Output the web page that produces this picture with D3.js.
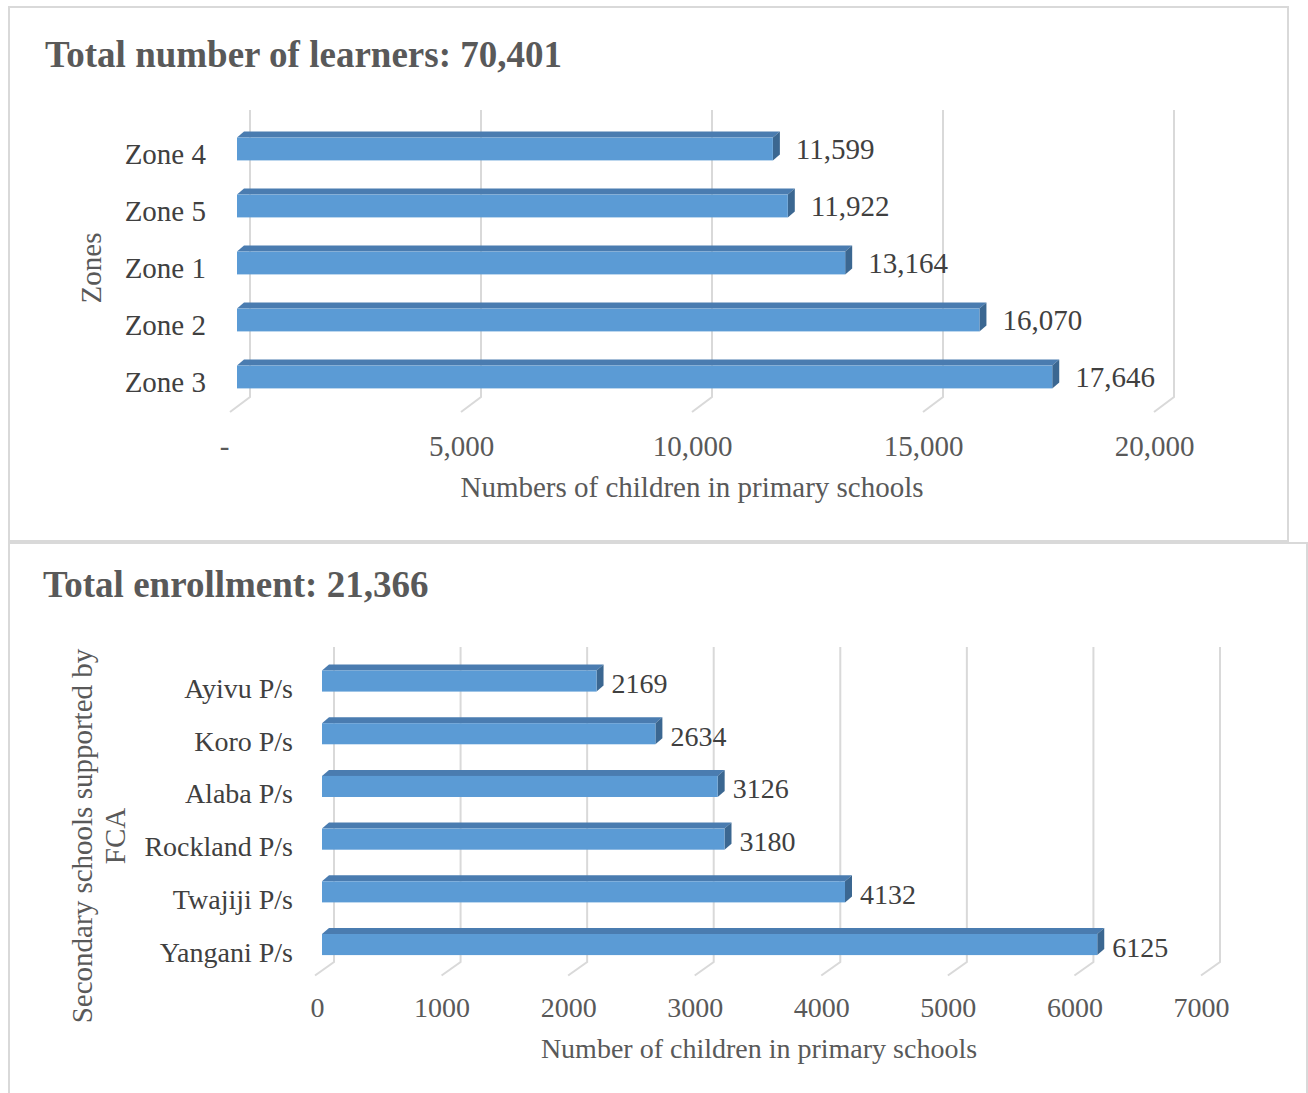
<!DOCTYPE html>
<html>
<head>
<meta charset="utf-8">
<script src="https://cdn.jsdelivr.net/npm/d3@7"></script>
<style>
  html, body { margin: 0; padding: 0; background: #ffffff; }
  svg { display: block; }
  text { font-family: "Liberation Serif", "Times New Roman", serif; }
</style>
</head>
<body>
<svg id="chart" width="1308" height="1093"></svg>
<script>
// ---- Data: learners per zone ----
const zoneNames = ["Zone 4", "Zone 5", "Zone 1", "Zone 2", "Zone 3"];
const zoneLearners = [11599, 11922, 13164, 16070, 17646];
const zoneTicks = [0, 5000, 10000, 15000, 20000];
const zoneTitle = "Total number of learners: 70,401";

// ---- Data: enrollment per FCA-supported school ----
const schoolNames = ["Ayivu P/s", "Koro P/s", "Alaba P/s", "Rockland P/s", "Twajiji P/s", "Yangani P/s"];
const schoolEnrollment = [2169, 2634, 3126, 3180, 4132, 6125];
const schoolTicks = [0, 1000, 2000, 3000, 4000, 5000, 6000, 7000];
const schoolTitle = "Total enrollment: 21,366";

const svg = d3.select("#chart");

const FRONT = "#5b9bd5", TOP = "#4a7cb0", SIDE = "#3b6791";
const GRID = "#d9d9d9", TITLE_C = "#595959", LABEL_C = "#404040";

// panel frames
svg.append("rect").attr("x", 9).attr("y", 7).attr("width", 1279).attr("height", 534)
  .attr("fill", "none").attr("stroke", GRID).attr("stroke-width", 2);
svg.append("rect").attr("x", 9).attr("y", 543).attr("width", 1298).attr("height", 560)
  .attr("fill", "none").attr("stroke", GRID).attr("stroke-width", 2);

// Draws one 3-D style horizontal bar chart
function bar3d(cfg) {
  const g = svg.append("g");
  const fs = cfg.fontSize;
  const x = d3.scaleLinear().domain([0, cfg.ticks[cfg.ticks.length - 1]]).range(cfg.xRange);
  const y = d3.scaleBand().domain(cfg.names).range(cfg.yRange).paddingInner(0.6).paddingOuter(0.3);
  const floor = x.copy().range(cfg.xRange.map(v => v + cfg.depth[0]));
  const fx = v => x(v) + cfg.barShift;       // front face of the bars
  const bd = [7, 6];                           // bar depth (dx, dy)

  // title
  g.append("text").attr("x", cfg.titleX).attr("y", cfg.titleY)
    .attr("font-size", 37).attr("font-weight", "bold").attr("fill", TITLE_C)
    .text(cfg.title);

  // back-wall gridlines with floor returns
  g.append("g").selectAll("path").data(cfg.ticks).join("path")
    .attr("d", t => `M${x(t)},${cfg.gridTop} L${x(t)},${cfg.floorY} L${x(t) + cfg.depth[0]},${cfg.floorY + cfg.depth[1]}`)
    .attr("fill", "none").attr("stroke", GRID).attr("stroke-width", 2);

  // value axis labels along the front edge of the floor
  const ax = g.append("g").attr("transform", `translate(0,${cfg.tickY})`)
    .call(d3.axisBottom(floor).tickValues(cfg.ticks).tickSize(0).tickPadding(0).tickFormat(cfg.fmt));
  ax.select(".domain").remove();
  ax.selectAll("text").attr("font-family", "Liberation Serif, serif").attr("font-size", fs)
    .attr("fill", TITLE_C).attr("dy", 0)
    .attr("dx", d => d === 0 ? cfg.zeroDx : 0);

  const rows = cfg.names.map((n, i) => ({ n, v: cfg.values[i] }));
  const bars = g.append("g").selectAll("g").data(rows).join("g");
  const bw = y.bandwidth();

  // top face
  bars.append("path").attr("fill", TOP).attr("d", d => {
    const y0 = y(d.n), x0 = fx(0), x1 = fx(d.v);
    return `M${x0},${y0} L${x0 + bd[0]},${y0 - bd[1]} L${x1 + bd[0]},${y0 - bd[1]} L${x1},${y0} Z`;
  });
  // end face
  bars.append("path").attr("fill", SIDE).attr("d", d => {
    const y0 = y(d.n), x1 = fx(d.v);
    return `M${x1},${y0} L${x1 + bd[0]},${y0 - bd[1]} L${x1 + bd[0]},${y0 + bw - bd[1]} L${x1},${y0 + bw} Z`;
  });
  // front face
  bars.append("rect").attr("fill", FRONT)
    .attr("x", fx(0)).attr("y", d => y(d.n))
    .attr("width", d => fx(d.v) - fx(0)).attr("height", bw);

  // value labels
  bars.append("text").attr("x", d => fx(d.v) + cfg.valGap).attr("y", d => y(d.n) + bw / 2 + cfg.valDy)
    .attr("font-size", fs).attr("fill", LABEL_C).text(d => cfg.valFmt(d.v));

  // category labels
  g.append("g").selectAll("text").data(cfg.names).join("text")
    .attr("x", cfg.catX).attr("y", n => y(n) + bw / 2 + cfg.catDy)
    .attr("text-anchor", "end").attr("font-size", fs).attr("fill", LABEL_C).text(n => n);

  // axis titles
  g.append("text").attr("x", cfg.xTitlePos[0]).attr("y", cfg.xTitlePos[1])
    .attr("text-anchor", "middle").attr("font-size", fs).attr("fill", TITLE_C).text(cfg.xTitle);
  const yt = g.append("text").attr("transform", `translate(${cfg.yTitlePos[0]},${cfg.yTitlePos[1]}) rotate(-90)`)
    .attr("text-anchor", "middle").attr("font-size", 29).attr("fill", TITLE_C);
  cfg.yTitle.forEach((line, i) => {
    yt.append("tspan").attr("x", 0).attr("y", i * 33).text(line);
  });
}

bar3d({
  names: zoneNames, values: zoneLearners, ticks: zoneTicks, title: zoneTitle,
  fontSize: 29,
  titleX: 45, titleY: 67,
  xRange: [250, 1174], yRange: [120.5, 405.5],
  gridTop: 110, floorY: 397, depth: [-20, 15], barShift: -13,
  tickY: 456, valGap: 23, valDy: 10, catX: 206, catDy: 15, zeroDx: -6,
  fmt: v => v === 0 ? "-" : d3.format(",")(v),
  valFmt: d3.format(","),
  xTitle: "Numbers of children in primary schools", xTitlePos: [692, 497],
  yTitle: ["Zones"], yTitlePos: [101, 268]
});

bar3d({
  names: schoolNames, values: schoolEnrollment, ticks: schoolTicks, title: schoolTitle,
  fontSize: 28,
  titleX: 43, titleY: 597,
  xRange: [334, 1220], yRange: [654.7, 970.9],
  gridTop: 647, floorY: 962, depth: [-19, 13.5], barShift: -12,
  tickY: 1017, valGap: 15, valDy: 12, catX: 293, catDy: 17, zeroDx: 2,
  fmt: d3.format("d"),
  valFmt: d3.format("d"),
  xTitle: "Number of children in primary schools", xTitlePos: [759, 1058],
  yTitle: ["Secondary schools supported by", "FCA"], yTitlePos: [92, 836]
});
</script>
</body>
</html>
